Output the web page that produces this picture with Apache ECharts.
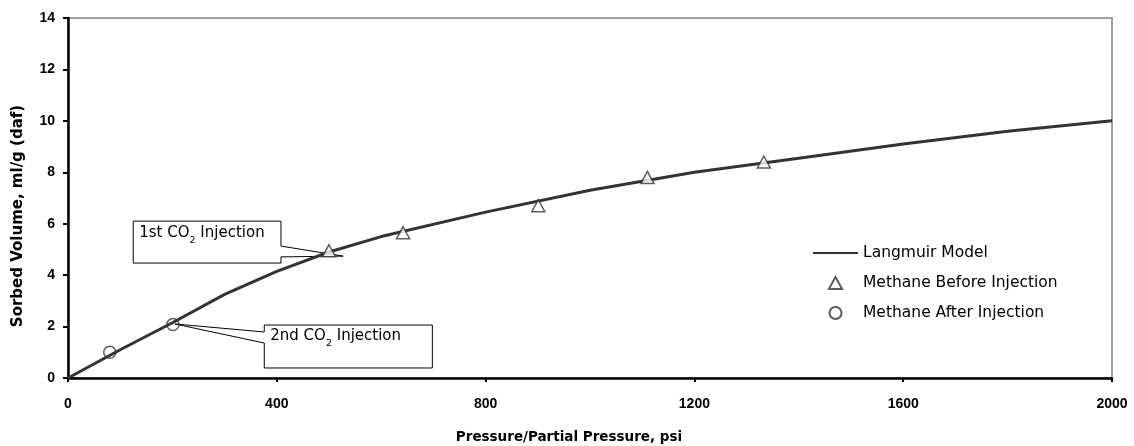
<!DOCTYPE html>
<html>
<head>
<meta charset="utf-8">
<script src="https://cdn.jsdelivr.net/npm/echarts@6/dist/echarts.min.js"></script>
<style>html,body{margin:0;padding:0;background:#fff;}#c{width:1134px;height:446px;}</style>
</head>
<body>
<div id="c"></div>
<script>
// Langmuir model curve (pressure psi, sorbed volume)
var modelP = [0, 100, 200, 300, 400, 500, 600, 800, 1000, 1200, 1400, 1600, 1800, 2000];
var modelV = [0, 1.1, 2.15, 3.25, 4.15, 4.9, 5.5, 6.45, 7.3, 8.0, 8.55, 9.1, 9.6, 10.0];
// Methane before injection (triangles)
var beforeP = [500, 642, 901, 1110, 1333];
var beforeV = [4.95, 5.65, 6.7, 7.8, 8.4];
// Methane after injection (circles)
var afterP = [80, 201];
var afterV = [1.0, 2.08];
var xTicks = [0, 400, 800, 1200, 1600, 2000];
var yTicks = [0, 2, 4, 6, 8, 10, 12, 14];
// callouts: box corners, wedge attach y-values, tip (data units)
var callouts = [
  {pre: '1st CO', sub: '2', post: ' Injection', box: [125, 6.1, 408, 4.47], side: 'right', wedge: [5.13, 4.71], tip: [527, 4.74]},
  {pre: '2nd CO', sub: '2', post: ' Injection', box: [376, 2.06, 698, 0.39], side: 'left', wedge: [1.79, 1.36], tip: [205, 2.1]}
];

function zip(a, b) { return a.map(function (v, i) { return [v, b[i]]; }); }

var FONT = '"Liberation Sans", Arial, sans-serif';
var WIDE = '"DejaVu Sans", "Liberation Sans", sans-serif';
var chart = echarts.init(document.getElementById('c'));
chart.setOption({
  animation: false,
  backgroundColor: '#fff',
  grid: {left: 68, right: 22, top: 18, bottom: 68, show: true, borderColor: '#808080', borderWidth: 1.5,
    containLabel: false, outerBoundsMode: 'none'},
  xAxis: {
    type: 'value', min: xTicks[0], max: xTicks[xTicks.length - 1], interval: 400,
    name: 'Pressure/Partial Pressure, psi', nameLocation: 'middle', nameGap: 52,
    nameTextStyle: {fontFamily: WIDE, fontSize: 13.5, fontWeight: 'bold', color: '#000', padding: [0, 42, 0, 0]},
    axisLine: {show: true, lineStyle: {color: '#000', width: 2.5}},
    axisTick: {show: true, length: 4, lineStyle: {color: '#000', width: 2}},
    axisLabel: {fontFamily: FONT, fontSize: 14, fontWeight: 'bold', color: '#000', margin: 19,
      formatter: function (v) { return String(v); }},
    splitLine: {show: false}
  },
  yAxis: {
    type: 'value', min: yTicks[0], max: yTicks[yTicks.length - 1], interval: 2,
    name: 'Sorbed Volume, ml/g (daf)', nameLocation: 'middle', nameGap: 42,
    nameTextStyle: {fontFamily: WIDE, fontSize: 15, fontWeight: 'bold', color: '#000', padding: [0, 36, 0, 0]},
    axisLine: {show: true, lineStyle: {color: '#000', width: 2.5}},
    axisTick: {show: true, length: 5, lineStyle: {color: '#000', width: 2}},
    axisLabel: {fontFamily: FONT, fontSize: 14, fontWeight: 'bold', color: '#000', margin: 13},
    splitLine: {show: false}
  },
  legend: {
    orient: 'vertical', left: 812, top: 244, padding: 0, itemWidth: 45, itemHeight: 12, itemGap: 12,
    textStyle: {fontFamily: WIDE, fontSize: 15.5, color: '#000', lineHeight: 18},
    data: [
      {name: 'Langmuir Model', itemStyle: {color: 'rgba(0,0,0,0)', borderColor: 'rgba(0,0,0,0)', borderWidth: 0, opacity: 0}},
      {name: 'Methane Before Injection', icon: 'path://M0,10L5.5,0L11,10Z'},
      'Methane After Injection']
  },
  series: [
    {name: 'Langmuir Model', type: 'line', data: zip(modelP, modelV), symbol: 'none', smooth: false,
     lineStyle: {color: '#333', width: 3}, itemStyle: {color: '#333'}, z: 3},
    {name: 'Methane Before Injection', type: 'scatter', data: zip(beforeP, beforeV), symbol: 'triangle', symbolSize: [13, 12],
     itemStyle: {color: '#fff', borderColor: '#333', borderWidth: 1.5}, z: 4},
    {name: 'Methane After Injection', type: 'scatter', data: zip(afterP, afterV), symbol: 'circle', symbolSize: 12,
     itemStyle: {color: 'rgba(255,255,255,0)', borderColor: '#333', borderWidth: 1.5}, z: 4}
  ]
});

function px(p) { return chart.convertToPixel({xAxisIndex: 0, yAxisIndex: 0}, p); }
var elements = [];
callouts.forEach(function (c) {
  var tl = px([c.box[0], c.box[1]]), br = px([c.box[2], c.box[3]]);
  var tip = px(c.tip);
  var w1 = px([c.side === 'right' ? c.box[2] : c.box[0], c.wedge[0]])[1];
  var w2 = px([c.side === 'right' ? c.box[2] : c.box[0], c.wedge[1]])[1];
  var pts;
  if (c.side === 'right') {
    pts = [[tl[0], tl[1]], [br[0], tl[1]], [br[0], w1], tip, [br[0], w2], [br[0], br[1]], [tl[0], br[1]]];
  } else {
    pts = [[tl[0], tl[1]], [br[0], tl[1]], [br[0], br[1]], [tl[0], br[1]], [tl[0], w2], tip, [tl[0], w1]];
  }
  elements.push({type: 'polygon', z: 1, shape: {points: pts},
    style: {fill: 'rgba(255,255,255,0)', stroke: '#000', lineWidth: 1}});
  elements.push({type: 'text', z: 5, left: tl[0] + 6, top: tl[1] + 4,
    style: {text: '{n|' + c.pre + '}{s|' + c.sub + '}{n|' + c.post + '}',
      rich: {n: {fontFamily: WIDE, fontSize: 15, color: '#000', lineHeight: 18, verticalAlign: 'top'},
             s: {fontFamily: WIDE, fontSize: 9.5, color: '#000', lineHeight: 10, padding: [10, 0, 0, 0], verticalAlign: 'top'}}}});
});
chart.setOption({graphic: {elements: elements}});
</script>
</body>
</html>
